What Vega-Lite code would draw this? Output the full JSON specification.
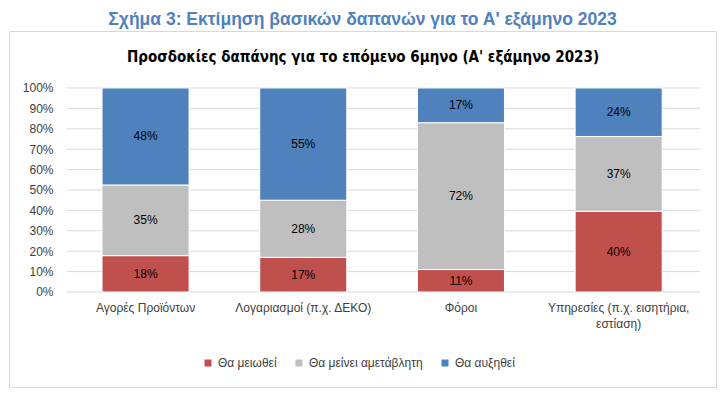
{
  "$schema": "https://vega.github.io/schema/vega-lite/v6.json",
  "width": 707,
  "height": 356,
  "autosize": {"type": "none"},
  "padding": {"left": 9, "top": 31, "right": 12, "bottom": 12},
  "background": "white",
  "title": {
    "text": "Σχήμα 3: Εκτίμηση βασικών δαπανών για το Α' εξάμηνο 2023",
    "font": "Liberation Sans",
    "fontSize": 17.5,
    "fontWeight": "bold",
    "color": "#4F81BD",
    "anchor": "middle",
    "frame": "group",
    "offset": 3
  },
  "config": {
    "view": {"stroke": "#D9D9D9", "strokeWidth": 1},
    "font": "Liberation Sans"
  },
  "datasets": {
    "shares": [
      {"cat": "Αγορές Προϊόντων", "k": "Θα μειωθεί", "pct": 0.18},
      {"cat": "Αγορές Προϊόντων", "k": "Θα μείνει αμετάβλητη", "pct": 0.35},
      {"cat": "Αγορές Προϊόντων", "k": "Θα αυξηθεί", "pct": 0.48},
      {"cat": "Λογαριασμοί (π.χ. ΔΕΚΟ)", "k": "Θα μειωθεί", "pct": 0.17},
      {"cat": "Λογαριασμοί (π.χ. ΔΕΚΟ)", "k": "Θα μείνει αμετάβλητη", "pct": 0.28},
      {"cat": "Λογαριασμοί (π.χ. ΔΕΚΟ)", "k": "Θα αυξηθεί", "pct": 0.55},
      {"cat": "Φόροι", "k": "Θα μειωθεί", "pct": 0.11},
      {"cat": "Φόροι", "k": "Θα μείνει αμετάβλητη", "pct": 0.72},
      {"cat": "Φόροι", "k": "Θα αυξηθεί", "pct": 0.17},
      {"cat": "Υπηρεσίες (π.χ. εισητήρια, εστίαση)", "k": "Θα μειωθεί", "pct": 0.40},
      {"cat": "Υπηρεσίες (π.χ. εισητήρια, εστίαση)", "k": "Θα μείνει αμετάβλητη", "pct": 0.37},
      {"cat": "Υπηρεσίες (π.χ. εισητήρια, εστίαση)", "k": "Θα αυξηθεί", "pct": 0.24}
    ],
    "grid": [
      {"v": 0}, {"v": 0.1}, {"v": 0.2}, {"v": 0.3}, {"v": 0.4}, {"v": 0.5},
      {"v": 0.6}, {"v": 0.7}, {"v": 0.8}, {"v": 0.9}, {"v": 1}
    ]
  },
  "layer": [
    {
      "data": {"name": "grid"},
      "mark": {"type": "rule", "color": "#D9D9D9", "strokeWidth": 1},
      "encoding": {
        "y": {
          "field": "v",
          "type": "quantitative",
          "scale": {"domain": [-0.4657, 1.2794], "nice": false, "zero": false},
          "axis": {
            "values": [0, 0.1, 0.2, 0.3, 0.4, 0.5, 0.6, 0.7, 0.8, 0.9, 1],
            "format": ".0%",
            "title": null,
            "grid": false,
            "domain": false,
            "ticks": false,
            "offset": -58,
            "labelPadding": 14,
            "labelOverlap": false,
            "labelFont": "Liberation Sans",
            "labelFontSize": 12,
            "labelColor": "#404040"
          }
        },
        "x": {
          "datum": 0,
          "type": "quantitative",
          "scale": {"domain": [-0.09163, 1.02523], "nice": false, "zero": false},
          "axis": {
            "orient": "top",
            "title": "Προσδοκίες δαπάνης για το επόμενο 6μηνο (Α' εξάμηνο 2023)",
            "labels": false,
            "ticks": false,
            "domain": false,
            "grid": false,
            "offset": -36,
            "titlePadding": 3,
            "titleFont": "Liberation Sans Narrow, DejaVu Sans Condensed, Liberation Sans",
            "titleFontSize": 15,
            "titleFontWeight": "bold",
            "titleColor": "#000000"
          }
        },
        "x2": {"datum": 1}
      }
    },
    {
      "data": {"name": "shares"},
      "mark": {"type": "bar", "stroke": "white", "strokeWidth": 1},
      "encoding": {
        "x": {
          "field": "cat",
          "type": "nominal",
          "sort": null,
          "scale": {"type": "band", "paddingInner": 0.448, "paddingOuter": 0.4656, "align": 0.6335},
          "axis": {
            "title": null,
            "orient": "bottom",
            "offset": -95,
            "domain": false,
            "ticks": false,
            "grid": false,
            "labelPadding": 10,
            "labelAngle": 0,
            "labelFont": "Liberation Sans",
            "labelFontSize": 12,
            "labelColor": "#404040",
            "labelLimit": 300,
            "labelLineHeight": 16,
            "labelExpr": "datum.label == 'Υπηρεσίες (π.χ. εισητήρια, εστίαση)' ? ['Υπηρεσίες (π.χ. εισητήρια,', 'εστίαση)'] : datum.label"
          }
        },
        "y": {
          "field": "pct",
          "type": "quantitative",
          "stack": "normalize",
          "scale": {"domain": [-0.4657, 1.2794], "nice": false, "zero": false},
          "axis": null
        },
        "color": {
          "field": "k",
          "type": "nominal",
          "scale": {
            "domain": ["Θα μειωθεί", "Θα μείνει αμετάβλητη", "Θα αυξηθεί"],
            "range": ["#C0504D", "#BFBFBF", "#4F81BD"]
          },
          "legend": {
            "orient": "none",
            "direction": "horizontal",
            "legendX": 193,
            "legendY": 326,
            "title": null,
            "symbolType": "square",
            "symbolSize": 49,
            "symbolStrokeWidth": 0,
            "labelFont": "Liberation Sans",
            "labelFontSize": 12,
            "labelColor": "#404040",
            "columnPadding": 16,
            "padding": 0
          }
        },
        "order": {"field": "k", "sort": "descending"}
      }
    },
    {
      "data": {"name": "shares"},
      "mark": {"type": "text", "font": "Liberation Sans", "fontSize": 12, "color": "#000000", "baseline": "middle"},
      "encoding": {
        "x": {
          "field": "cat",
          "type": "nominal",
          "sort": null,
          "scale": {"type": "band", "paddingInner": 0.448, "paddingOuter": 0.4656, "align": 0.6335},
          "axis": null
        },
        "y": {
          "field": "pct",
          "type": "quantitative",
          "stack": "normalize",
          "bandPosition": 0.5,
          "scale": {"domain": [-0.4657, 1.2794], "nice": false, "zero": false},
          "axis": null
        },
        "detail": {"field": "k"},
        "order": {"field": "k", "sort": "descending"},
        "text": {"field": "pct", "type": "quantitative", "format": ".0%"}
      }
    }
  ],
  "resolve": {"scale": {"x": "independent"}, "axis": {"x": "independent", "y": "independent"}}
}
